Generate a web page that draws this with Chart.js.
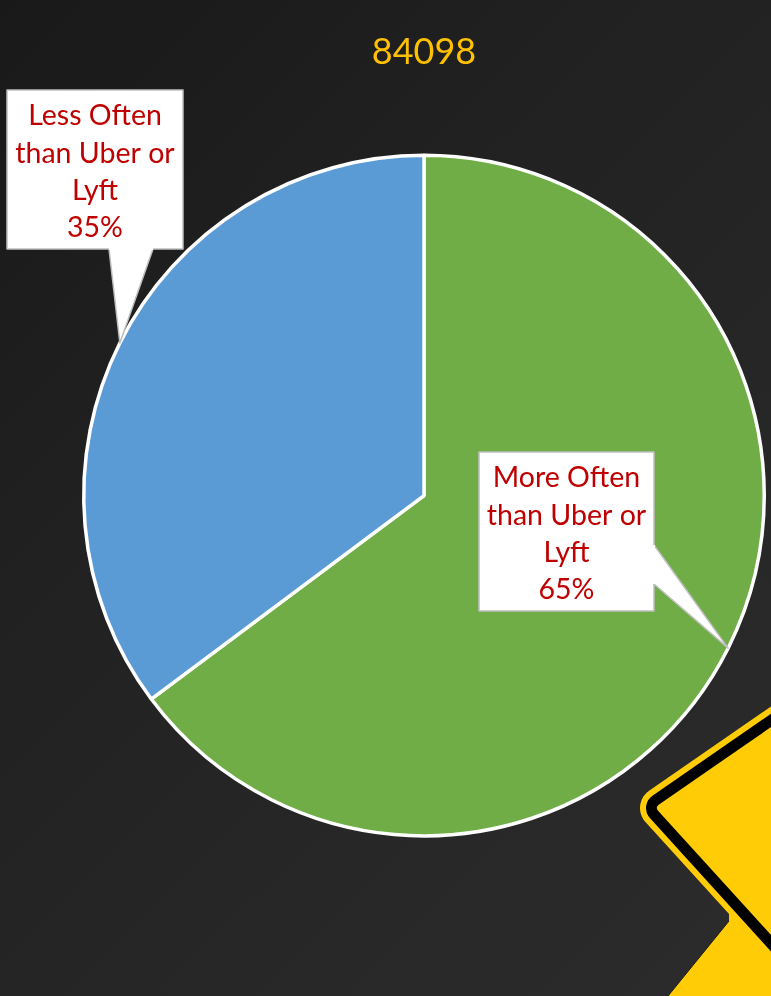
<!DOCTYPE html>
<html lang="en">
<head>
  <meta charset="UTF-8" />
  <title>84098</title>
  <script src="https://cdn.jsdelivr.net/npm/chart.js"></script>
  <style>
    html, body {
      margin: 0;
      width: 771px;
      height: 996px;
      overflow: hidden;
      background: linear-gradient(135deg, #191919 0%, #232323 45%, #2c2c2c 100%);
    }

    #sign, #pie {
      position: absolute;
      left: 0;
      top: 0;
    }
  </style>
</head>
<body>
  <!-- road sign in the corner, just decoration -->
  <svg id="sign" width="771" height="996" viewBox="0 0 771 996">
    <polygon points="729,921 668,996 771,996 771,940 729,900" fill="#ffcc05" />
    <line x1="729" y1="921" x2="668" y2="996" stroke="#1c1c1c" stroke-width="1" />
    <g stroke-linejoin="round">
      <polygon points="810,705 661,808 810,972" fill="#ffcc05" stroke="#ffcc05" stroke-width="42" />
      <polygon points="810,705 661,808 810,972" fill="#000" stroke="#000" stroke-width="30" />
      <polygon points="810,705 661,808 810,972" fill="#ffcc05" stroke="#ffcc05" stroke-width="8" />
    </g>
  </svg>

  <canvas id="pie" width="771" height="996"></canvas>

  <script>
    const chartTitle = '84098';
    const categories = ['More Often than Uber or Lyft', 'Less Often than Uber or Lyft'];
    const shares = [64.8, 35.2];
    const sliceColors = ['#70ad47', '#5b9bd5'];

    // callout boxes, and the two points where the tail leaves each box
    const callouts = [
      { x: 479, y: 452, w: 175, h: 159, tail: [[654, 545], [654, 584]] },
      { x: 7, y: 90, w: 176, h: 159, tail: [[109, 249], [153, 249]] }
    ];

    function wrapText(ctx, text, maxWidth) {
      const lines = [];
      let line = '';
      text.split(' ').forEach(word => {
        const next = line ? line + ' ' + word : word;
        if (ctx.measureText(next).width > maxWidth && line) {
          lines.push(line);
          line = word;
        } else {
          line = next;
        }
      });
      lines.push(line);
      return lines;
    }

    const calloutPlugin = {
      id: 'callouts',
      afterDatasetsDraw(chart) {
        const ctx = chart.ctx;
        const arcs = chart.getDatasetMeta(0).data;

        arcs.forEach((arc, i) => {
          const box = callouts[i];
          const mid = (arc.startAngle + arc.endAngle) / 2;
          const tipX = arc.x + Math.cos(mid) * arc.outerRadius;
          const tipY = arc.y + Math.sin(mid) * arc.outerRadius;

          ctx.save();
          ctx.fillStyle = '#fff';
          ctx.strokeStyle = '#bfbfbf';
          ctx.lineWidth = 1.5;
          ctx.lineJoin = 'round';

          ctx.beginPath();
          ctx.rect(box.x, box.y, box.w, box.h);
          ctx.fill();
          ctx.stroke();

          ctx.beginPath();
          ctx.moveTo(box.tail[0][0], box.tail[0][1]);
          ctx.lineTo(tipX, tipY);
          ctx.lineTo(box.tail[1][0], box.tail[1][1]);
          ctx.closePath();
          ctx.fill();

          ctx.beginPath();
          ctx.moveTo(box.tail[0][0], box.tail[0][1]);
          ctx.lineTo(tipX, tipY);
          ctx.lineTo(box.tail[1][0], box.tail[1][1]);
          ctx.stroke();

          // cover the box border where the tail joins
          ctx.beginPath();
          ctx.moveTo(box.tail[0][0], box.tail[0][1]);
          ctx.lineTo(box.tail[1][0], box.tail[1][1]);
          ctx.strokeStyle = '#fff';
          ctx.lineWidth = 2;
          ctx.stroke();

          ctx.fillStyle = '#c00000';
          ctx.font = '28.5px Lato';
          ctx.textAlign = 'center';
          ctx.textBaseline = 'middle';
          const lines = wrapText(ctx, categories[i], box.w - 10);
          lines.push(Math.round(shares[i]) + '%');
          lines.forEach((text, n) => {
            ctx.fillText(text, box.x + box.w / 2, box.y + 26 + n * 37.4);
          });
          ctx.restore();
        });
      }
    };

    new Chart(document.getElementById('pie'), {
      type: 'pie',
      data: {
        labels: categories,
        datasets: [{
          data: shares,
          backgroundColor: sliceColors,
          borderColor: '#fff',
          borderWidth: 3.5
        }]
      },
      options: {
        responsive: false,
        animation: false,
        layout: { padding: { left: 82, right: 5, top: 0, bottom: 158 } },
        plugins: {
          legend: { display: false },
          tooltip: { enabled: false },
          title: {
            display: true,
            text: chartTitle,
            fullSize: false,
            color: '#ffc000',
            font: { family: 'Lato', size: 36, weight: 'normal', lineHeight: 1.2 },
            padding: { top: 31, bottom: 79 }
          }
        }
      },
      plugins: [calloutPlugin]
    });
  </script>
</body>
</html>
